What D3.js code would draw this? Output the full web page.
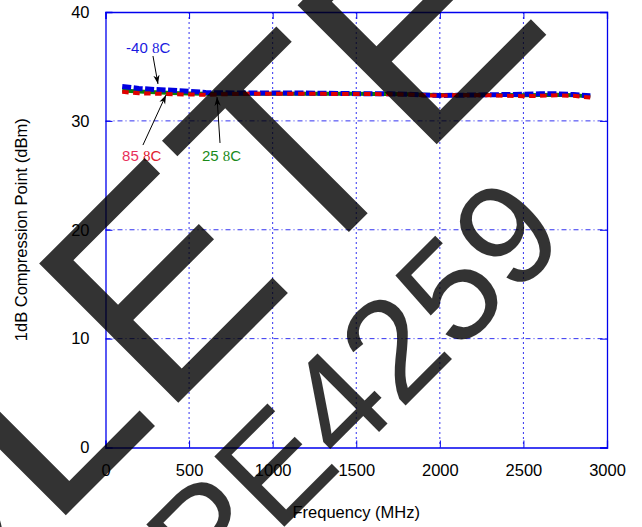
<!DOCTYPE html>
<html><head><meta charset="utf-8">
<script src="https://cdn.jsdelivr.net/npm/d3@7"></script>
<style>body{margin:0;background:#fff}svg{display:block}</style>
</head><body><svg id="c" width="642" height="527"></svg>
<script>
// ---- data ----
const freqs   = [100,200,300,400,500,600,700,800,900,1000,1100,1200,1300,1400,1500,1600,1700,1800,1900,2000,2100,2200,2300,2400,2500,2600,2700,2800,2900];
const neg40C  = [33.15,32.98,32.88,32.82,32.72,32.60,32.58,32.56,32.55,32.55,32.55,32.55,32.53,32.52,32.50,32.50,32.48,32.45,32.38,32.33,32.35,32.38,32.40,32.42,32.45,32.48,32.48,32.42,32.30];
const room25C = [32.80,32.70,32.62,32.56,32.51,32.49,32.48,32.48,32.49,32.50,32.50,32.50,32.49,32.48,32.48,32.47,32.46,32.44,32.40,32.38,32.38,32.38,32.38,32.37,32.36,32.38,32.40,32.36,32.25];
const hot85C  = [32.67,32.53,32.50,32.45,32.42,32.40,32.44,32.47,32.50,32.50,32.50,32.49,32.48,32.47,32.47,32.46,32.45,32.43,32.35,32.33,32.35,32.35,32.35,32.30,32.27,32.30,32.35,32.30,32.14];
const xTicks = [0,500,1000,1500,2000,2500,3000];
const yTicks = [0,10,20,30,40];
const seriesLabels = ["-40 ", "25 ", "85 "];
const degreeGlyph = "8";
const unitGlyph = "C";
const xTitle = "Frequency (MHz)";
const yTitle = "1dB Compression Point (dBm)";
const watermarkMain = "OBSOLETE";
const watermarkPart = "PE4259";
// annotation anchors (data units): [labelX, labelY, tailX, tailY, headX, headY]
const annNeg40 = [123, 36.24, 284, 35.96, 314, 33.39];
const ann85    = [99, 26.31, 224, 27.78, 362, 32.38];
const ann25    = [577, 26.31, 685, 27.97, 667, 32.2];

// ---- chart ----
const svg = d3.select("#c");
const L = 105.5, R = 607, T = 12, B = 447.5;
const x = d3.scaleLinear().domain([0,3000]).range([L,R]);
const y = d3.scaleLinear().domain([0,40]).range([B,T]);
const font = "'Liberation Sans', Arial, sans-serif";
const blue = "#0000ee";

svg.append("rect").attr("width",642).attr("height",527).attr("fill","#fff");

// grid
const g = svg.append("g");
g.selectAll("line.vg").data(xTicks.slice(1,-1)).join("line")
  .attr("x1",d=>x(d)).attr("x2",d=>x(d)).attr("y1",T).attr("y2",B)
  .attr("stroke",blue).attr("stroke-width",1).attr("stroke-dasharray","2,3").attr("opacity",0.8);
g.selectAll("line.hg").data(yTicks.slice(1,-1)).join("line")
  .attr("x1",L).attr("x2",R).attr("y1",d=>y(d)).attr("y2",d=>y(d))
  .attr("stroke",blue).attr("stroke-width",1).attr("stroke-dasharray","5,3,1,3").attr("opacity",0.8);

// axes (inward ticks on all sides)
const tk = 7;
const axB = svg.append("g").attr("transform",`translate(0,${B})`)
  .call(d3.axisBottom(x).tickValues(xTicks).tickSize(-tk).tickPadding(17).tickFormat(d3.format("d")));
const axT = svg.append("g").attr("transform",`translate(0,${T})`)
  .call(d3.axisTop(x).tickValues(xTicks).tickSize(-tk).tickFormat(""));
const axL = svg.append("g").attr("transform",`translate(${L},0)`)
  .call(d3.axisLeft(y).tickValues(yTicks).tickSize(-tk).tickPadding(16).tickFormat(d3.format("d")));
const axR = svg.append("g").attr("transform",`translate(${R},0)`)
  .call(d3.axisRight(y).tickValues(yTicks).tickSize(-tk).tickFormat(""));
[axB,axT,axL,axR].forEach(a=>{
  a.select(".domain").attr("stroke",blue).attr("stroke-width",1.3);
  a.selectAll(".tick line").attr("stroke",blue).attr("stroke-width",1);
  a.selectAll(".tick text").attr("fill","#000").attr("font-family",font).attr("font-size",16.5);
});
axB.selectAll(".tick text").attr("dy","0.71em");

// titles
svg.append("text").attr("x",(L+R)/2).attr("y",518).attr("text-anchor","middle")
  .attr("font-family",font).attr("font-size",16.5).text(xTitle);
svg.append("text").attr("transform",`translate(27,${(T+B)/2}) rotate(-90)`).attr("text-anchor","middle")
  .attr("font-family",font).attr("font-size",16.5).text(yTitle);

// series
const line = d3.line().x((d,i)=>x(freqs[i])).y(d=>y(d));
const series = [
  {vals: room25C, color:"#0a800a", w:4, dash:null},
  {vals: neg40C,  color:"#0000e0", w:5, dash:"9,2.5"},
  {vals: hot85C,  color:"#e00000", w:4, dash:"6.5,4.5"}
];
series.forEach(s=>{
  svg.append("path").datum(s.vals).attr("d",line).attr("fill","none")
    .attr("stroke",s.color).attr("stroke-width",s.w)
    .attr("stroke-dasharray",s.dash);
});

// annotations
const defs = svg.append("defs");
defs.append("marker").attr("id","ah").attr("viewBox","0 0 10 10").attr("refX",10).attr("refY",5)
  .attr("markerWidth",9).attr("markerHeight",9).attr("markerUnits","userSpaceOnUse").attr("orient","auto")
  .append("path").attr("d","M0,1.5 L10,5 L0,8.5 L3,5 Z").attr("fill","#000");
function annotate(a, label, color1, color2){
  const t = svg.append("text").attr("x",x(a[0])).attr("y",y(a[1]))
    .attr("font-family",font).attr("font-size",15).attr("fill",color1);
  t.append("tspan").text(label);
  t.append("tspan").attr("font-family","'Liberation Serif', 'Times New Roman', serif").attr("fill",color2).text(degreeGlyph);
  t.append("tspan").attr("fill",color2).text(unitGlyph);
  svg.append("line").attr("x1",x(a[2])).attr("y1",y(a[3])).attr("x2",x(a[4])).attr("y2",y(a[5]))
    .attr("stroke","#000").attr("stroke-width",1).attr("marker-end","url(#ah)");
}
annotate(annNeg40, seriesLabels[0], "#1a1ae0", "#1a1ae0");
annotate(ann85, seriesLabels[2], "#e8305a", "#e02030");
annotate(ann25, seriesLabels[1], "#1a8a1a", "#1a8a1a");

// watermark
svg.append("text").attr("transform","translate(555,26) rotate(-45)").attr("text-anchor","end")
  .attr("font-family",font).attr("font-size",286).attr("fill","#000").attr("fill-opacity",0.8)
  .text(watermarkMain);
svg.append("text").attr("transform","translate(208,603) rotate(-45)").attr("text-anchor","start")
  .attr("font-family",font).attr("font-size",144).attr("fill","#000").attr("fill-opacity",0.8)
  .text(watermarkPart);
</script></body></html>
